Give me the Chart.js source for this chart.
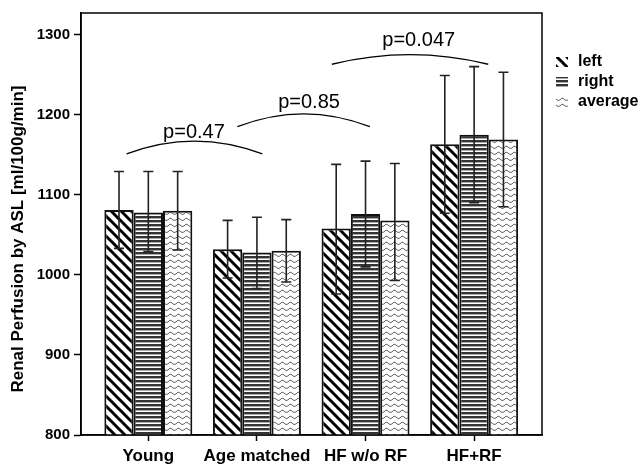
<!DOCTYPE html>
<html>
<head>
<meta charset="utf-8">
<script src="https://cdn.jsdelivr.net/npm/chart.js@4.4.1/dist/chart.umd.min.js"></script>
<style>
  html, body { margin: 0; padding: 0; background: #fff; }
</style>
</head>
<body>
<canvas id="chart" width="641" height="469"></canvas>
<script>
// categories and series
const groups = ['Young', 'Age matched', 'HF w/o RF', 'HF+RF'];
const seriesNames = ['left', 'right', 'average'];

// means
const leftMean = [1081, 1032, 1058, 1163];
const rightMean = [1078, 1028, 1076, 1175];
const avgMean = [1080, 1030, 1068, 1169];

// error bar ends
const leftHigh = [1129, 1068, 1138, 1249];
const leftLow = [1033, 996, 976, 1077];
const rightHigh = [1129, 1072, 1142, 1260];
const rightLow = [1029, 983, 1010, 1090];
const avgHigh = [1129, 1069, 1139, 1253];
const avgLow = [1031, 991, 993, 1085];

// y ticks
const yTicks = [800, 900, 1000, 1100, 1200, 1300];

// p-value brackets (x in group units, y in data units)
const pLabels = ['p=0.47', 'p=0.85', 'p=0.047'];
const pFrom = [-0.2, 0.82, 1.69];
const pTo = [1.05, 2.04, 3.13];
const pEnds = [1151, 1185, 1263];
const pPeaks = [1167, 1201, 1275];
const pTextX = [0.42, 1.48, 2.49];
const pTextY = [1171, 1208, 1286];

const FONT = '"Liberation Sans", Arial, sans-serif';

function makePattern(kind) {
  const c = document.createElement('canvas');
  const g = c.getContext('2d');
  if (kind === 'diag') {
    c.width = 10; c.height = 10;
    g.fillStyle = '#fff'; g.fillRect(0, 0, 10, 10);
    g.strokeStyle = '#000'; g.lineWidth = 3;
    for (const o of [-10, 0, 10]) {
      g.beginPath(); g.moveTo(o - 2, -2); g.lineTo(o + 12, 12); g.stroke();
    }
  } else if (kind === 'horiz') {
    c.width = 4; c.height = 4;
    g.fillStyle = '#fff'; g.fillRect(0, 0, 4, 4);
    g.fillStyle = '#333'; g.fillRect(0, 0, 4, 2);
    g.fillStyle = '#aaa'; g.fillRect(0, 2, 4, 1);
  } else {
    // small grey waves
    c.width = 8; c.height = 6;
    g.fillStyle = '#fff'; g.fillRect(0, 0, 8, 6);
    g.strokeStyle = '#666'; g.lineWidth = 1;
    g.beginPath();
    g.moveTo(0, 4);
    g.quadraticCurveTo(2, 0.5, 4, 3);
    g.quadraticCurveTo(6, 5.5, 8, 4);
    g.stroke();
  }
  return g.createPattern(c, 'repeat');
}

const patterns = [makePattern('diag'), makePattern('horiz'), makePattern('wave')];
const means = [leftMean, rightMean, avgMean];
const highs = [leftHigh, rightHigh, avgHigh];
const lows = [leftLow, rightLow, avgLow];

const datasets = seriesNames.map((name, i) => ({
  label: name,
  data: groups.map((g, j) => ({ x: j, y: means[i][j] })),
  backgroundColor: patterns[i],
  borderColor: '#111',
  borderWidth: 2,
  borderSkipped: false,
  barPercentage: 1,
  categoryPercentage: 0.81
}));

const errorBars = {
  id: 'errorBars',
  afterDatasetsDraw(chart) {
    const ctx = chart.ctx;
    const y = chart.scales.y;
    ctx.save();
    ctx.strokeStyle = '#222';
    ctx.lineWidth = 1.6;
    chart.data.datasets.forEach((ds, i) => {
      chart.getDatasetMeta(i).data.forEach((bar, j) => {
        const hi = y.getPixelForValue(highs[i][j]);
        const lo = y.getPixelForValue(lows[i][j]);
        ctx.beginPath();
        ctx.moveTo(bar.x, hi); ctx.lineTo(bar.x, lo);
        ctx.moveTo(bar.x - 5, hi); ctx.lineTo(bar.x + 5, hi);
        ctx.moveTo(bar.x - 5, lo); ctx.lineTo(bar.x + 5, lo);
        ctx.stroke();
      });
    });
    ctx.restore();
  }
};

const decorations = {
  id: 'decorations',
  afterDraw(chart) {
    const ctx = chart.ctx;
    const a = chart.chartArea;
    const x = chart.scales.x, y = chart.scales.y;
    ctx.save();
    // frame
    ctx.strokeStyle = '#000';
    ctx.lineWidth = 1.5;
    ctx.strokeRect(a.left, a.top, a.right - a.left, a.bottom - a.top);

    // p-value brackets
    ctx.lineWidth = 1.4;
    ctx.fillStyle = '#000';
    ctx.font = '20px ' + FONT;
    ctx.textAlign = 'center';
    ctx.textBaseline = 'alphabetic';
    pLabels.forEach((lab, i) => {
      const x1 = x.getPixelForValue(pFrom[i]);
      const x2 = x.getPixelForValue(pTo[i]);
      const ye = y.getPixelForValue(pEnds[i]);
      const yp = y.getPixelForValue(pPeaks[i]);
      ctx.beginPath();
      ctx.moveTo(x1, ye);
      ctx.quadraticCurveTo((x1 + x2) / 2, 2 * yp - ye, x2, ye);
      ctx.stroke();
      ctx.fillText(lab, x.getPixelForValue(pTextX[i]), y.getPixelForValue(pTextY[i]));
    });

    // y axis title
    ctx.save();
    ctx.translate(18, 239);
    ctx.rotate(-Math.PI / 2);
    ctx.font = 'bold 17px ' + FONT;
    ctx.textBaseline = 'middle';
    ctx.fillText('Renal Perfusion by ASL [ml/100g/min]', 0, 0);
    ctx.restore();

    // legend
    ctx.font = 'bold 16px ' + FONT;
    ctx.textAlign = 'left';
    ctx.textBaseline = 'middle';
    seriesNames.forEach((name, i) => {
      const cy = 62 + i * 20;
      ctx.fillStyle = patterns[i];
      ctx.fillRect(556, cy - 5, 12, 10);
      ctx.fillStyle = '#000';
      ctx.fillText(name, 578, cy);
    });
    ctx.restore();
  }
};

new Chart(document.getElementById('chart'), {
  type: 'bar',
  data: { datasets },
  options: {
    responsive: false,
    animation: false,
    devicePixelRatio: 1,
    layout: { padding: { left: 0, top: 10, right: 99, bottom: 0 } },
    plugins: { legend: { display: false }, tooltip: { enabled: false } },
    scales: {
      x: {
        type: 'linear',
        offset: false,
        min: -0.62,
        max: 3.625,
        afterBuildTicks(scale) { scale.ticks = groups.map((g, j) => ({ value: j })); },
        afterFit(scale) { scale.height = 34; },
        ticks: {
          callback: (v) => groups[v],
          color: '#000',
          font: { family: FONT, size: 17, weight: 'bold' },
          padding: 5,
          maxRotation: 0,
          autoSkip: false
        },
        grid: { offset: false, drawOnChartArea: false, tickLength: 6, tickColor: '#000', tickWidth: 1.5 },
        border: { color: '#000', width: 1.5 }
      },
      y: {
        min: 800,
        max: 1327,
        afterBuildTicks(scale) { scale.ticks = yTicks.map(v => ({ value: v })); },
        afterFit(scale) { scale.width = 81; },
        ticks: {
          callback: (v) => String(v),
          color: '#000',
          font: { family: FONT, size: 15, weight: 'bold' },
          padding: 4
        },
        grid: { drawOnChartArea: false, tickLength: 7, tickColor: '#000', tickWidth: 1.5 },
        border: { color: '#000', width: 1.5 }
      }
    }
  },
  plugins: [errorBars, decorations]
});
</script>
</body>
</html>
